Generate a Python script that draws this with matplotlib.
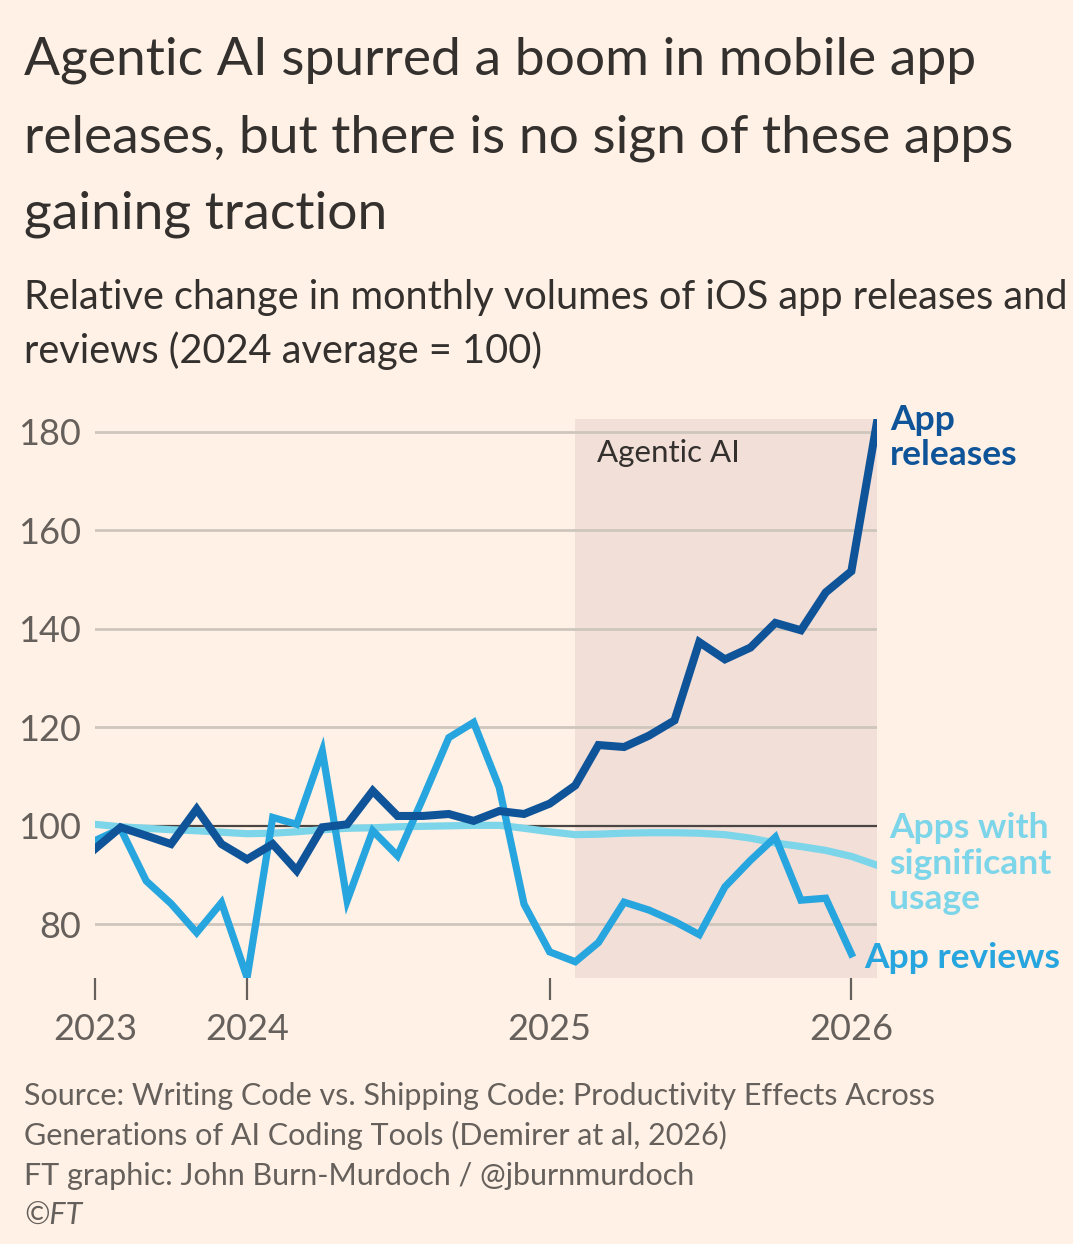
import matplotlib
matplotlib.use("Agg")
import matplotlib.pyplot as plt
import pandas as pd

# monthly points, Jul 2023 .. Feb 2026
months = pd.date_range("2023-07-01", "2026-02-01", freq="MS")

app_releases = [95.3, 99.7, 98.0, 96.3, 103.4, 96.3, 93.2, 96.3, 90.9, 99.7, 100.3, 107.1,
                102.0, 102.0, 102.4, 101.0, 103.0, 102.4, 104.5, 108.2, 116.4, 116.0, 118.3, 121.4,
                137.3, 133.8, 136.2, 141.2, 139.7, 147.4, 151.7, 182.0]

app_reviews = [97.0, 99.4, 88.8, 84.2, 78.3, 84.4, 69.2, 101.7, 100.3, 115.2, 84.8, 99.0,
               93.9, 105.7, 117.9, 121.0, 107.8, 84.1, 74.4, 72.4, 76.3, 84.5, 82.9, 80.6,
               77.9, 87.6, 93.0, 97.7, 84.9, 85.3, 74.0]

sig_usage = [100.3, 99.8, 99.5, 99.2, 99.0, 98.7, 98.4, 98.5, 98.8, 99.2, 99.5, 99.6,
             99.8, 99.9, 100.0, 100.1, 100.1, 99.5, 98.8, 98.2, 98.3, 98.5, 98.6, 98.6,
             98.5, 98.2, 97.5, 96.5, 95.8, 95.0, 93.8, 92.0]

y_ticks = [80, 100, 120, 140, 160, 180]
x_ticks = ["2023-07-01", "2024-01-01", "2025-01-01", "2026-01-01"]
x_tick_labels = ["2023", "2024", "2025", "2026"]
shade_start = "2025-02-01"
shade_end = "2026-02-01"

BG = "#FFF1E5"
SHADE = "#F2DFD8"
DARK = "#0F5499"
MID = "#27A5DE"
LIGHT = "#7DD5EA"
TEXT = "#33302E"
GREY = "#66605C"

plt.rcParams["font.family"] = ["Lato", "DejaVu Sans"]

W, H = 1073, 1244
fig = plt.figure(figsize=(W / 100, H / 100), dpi=100, facecolor=BG)

def fx(px):
	return px / W

def fy(py):
	return 1 - py / H

ax = fig.add_axes([fx(95), fy(978), fx(877) - fx(95), fy(419) - fy(978)])
ax.patch.set_alpha(0)

ax.set_xlim(months[0], months[-1])
ax.set_ylim(69.1, 182.6)

ax.axvspan(pd.Timestamp(shade_start), pd.Timestamp(shade_end), color=SHADE, zorder=0, lw=0)

for t in y_ticks:
	if t == 100:
		ax.axhline(t, color="#4A4542", lw=1.6, zorder=1)
	else:
		ax.axhline(t, color="#CEC6BD", lw=2, zorder=1)

ax.plot(months, sig_usage, color=LIGHT, lw=5.2, solid_joinstyle="miter", zorder=3)
ax.plot(months[:len(app_reviews)], app_reviews, color=MID, lw=5.2, solid_joinstyle="miter", zorder=4)
ax.plot(months, app_releases, color=DARK, lw=5.8, solid_joinstyle="miter", zorder=5)

for s in ax.spines.values():
	s.set_visible(False)

ax.set_yticks(y_ticks)
ax.set_yticklabels([str(t) for t in y_ticks], fontsize=26, color=GREY)
ax.tick_params(axis="y", length=0, pad=10)

ax.set_xticks([pd.Timestamp(d) for d in x_ticks])
ax.set_xticklabels(x_tick_labels, fontsize=26, color=GREY)
ax.tick_params(axis="x", length=16, width=1.6, color=GREY, pad=9, direction="out")

fig.text(fx(668), fy(453), "Agentic AI", fontsize=22.5, color=TEXT, ha="center", va="center")

# line labels
fig.text(fx(890), fy(430), "App", fontsize=25.5, color=DARK, fontweight="bold", va="baseline")
fig.text(fx(890), fy(465), "releases", fontsize=25.5, color=DARK, fontweight="bold", va="baseline")
fig.text(fx(889), fy(838), "Apps with", fontsize=25.5, color=LIGHT, fontweight="bold", va="baseline")
fig.text(fx(889), fy(874), "significant", fontsize=25.5, color=LIGHT, fontweight="bold", va="baseline")
fig.text(fx(889), fy(909), "usage", fontsize=25.5, color=LIGHT, fontweight="bold", va="baseline")
fig.text(fx(864), fy(968), "App reviews", fontsize=25.5, color=MID, fontweight="bold", va="baseline")

# titles
title = ["Agentic AI spurred a boom in mobile app",
         "releases, but there is no sign of these apps",
         "gaining traction"]
for i, line in enumerate(title):
	fig.text(fx(24), fy(75 + 77 * i), line, fontsize=38.4, color=TEXT, va="baseline")

subtitle = ["Relative change in monthly volumes of iOS app releases and",
            "reviews (2024 average = 100)"]
for i, line in enumerate(subtitle):
	fig.text(fx(24), fy(309 + 54 * i), line, fontsize=28.6, color=TEXT, va="baseline")

source = ["Source: Writing Code vs. Shipping Code: Productivity Effects Across",
          "Generations of AI Coding Tools (Demirer at al, 2026)",
          "FT graphic: John Burn-Murdoch / @jburnmurdoch",
          "\u00a9FT"]
for i, line in enumerate(source):
	fig.text(fx(24), fy(1105 + 40 * i), line, fontsize=22, color=GREY, va="baseline",
	         style="italic" if i == 3 else "normal")

fig.savefig("out.png", dpi=100, facecolor=BG)
